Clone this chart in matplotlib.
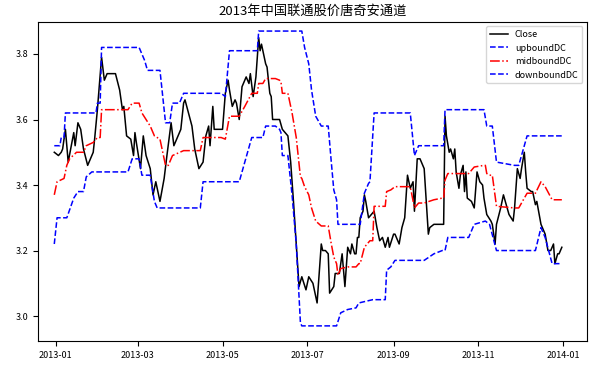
import pandas as pd
import matplotlib
matplotlib.use('Agg')
import matplotlib.pyplot as plt
import matplotlib.dates as mdates

plt.rcParams['font.family'] = ['Noto Sans CJK SC', 'DejaVu Sans']
plt.rcParams['axes.unicode_minus'] = False

# days counted from 2013-01-01
close_day = [-1, 2, 4, 5, 7, 9, 13, 14, 16, 18, 20, 23, 27, 28, 30, 33, 35, 37, 43, 46,
             48, 49, 51, 54, 56, 57, 58, 61, 63, 65, 68, 70, 72, 75, 78, 80, 83, 85, 90, 92,
             93, 98, 100, 103, 106, 108, 110, 111, 113, 114, 120, 122, 124, 125, 127, 129, 130, 132, 134, 137,
             139, 140, 142, 144, 146, 147, 148, 151, 152, 154, 155, 156, 161, 163, 165, 167, 169, 171, 173, 175,
             177, 180, 182, 185, 188, 191, 192, 194, 196, 197, 200, 201, 204, 206, 208, 210, 212, 213, 215, 216,
             217, 218, 219, 221, 222, 223, 225, 227, 229, 231, 233, 235, 237, 239, 240, 243, 244, 247, 249, 251,
             253, 255, 257, 258, 260, 262, 265, 268, 269, 272, 279, 280, 281, 283, 284, 286, 287, 288, 290, 291,
             293, 294, 295, 296, 299, 301, 303, 305, 307, 308, 310, 313, 314, 316, 317, 320, 322, 324, 326, 329,
             330, 332, 334, 335, 337, 338, 339, 342, 343, 345, 346, 349, 352, 354, 356, 358, 359, 361, 362, 364]
close_val = [3.50, 3.49, 3.50, 3.51, 3.57, 3.47, 3.56, 3.52, 3.59, 3.57, 3.51, 3.46, 3.50, 3.54, 3.63, 3.79, 3.72, 3.74, 3.74, 3.69,
             3.63, 3.64, 3.55, 3.54, 3.49, 3.56, 3.53, 3.45, 3.55, 3.49, 3.45, 3.37, 3.41, 3.35, 3.42, 3.49, 3.59, 3.52, 3.57, 3.65,
             3.66, 3.58, 3.51, 3.45, 3.47, 3.55, 3.58, 3.52, 3.64, 3.57, 3.57, 3.68, 3.72, 3.69, 3.64, 3.66, 3.65, 3.60, 3.70, 3.73,
             3.71, 3.74, 3.67, 3.73, 3.85, 3.81, 3.83, 3.77, 3.76, 3.68, 3.67, 3.60, 3.60, 3.57, 3.56, 3.55, 3.47, 3.35, 3.22, 3.09,
             3.12, 3.08, 3.12, 3.10, 3.04, 3.22, 3.20, 3.20, 3.19, 3.07, 3.09, 3.13, 3.13, 3.19, 3.09, 3.21, 3.19, 3.22, 3.19, 3.19,
             3.24, 3.24, 3.30, 3.32, 3.37, 3.35, 3.30, 3.31, 3.32, 3.27, 3.23, 3.24, 3.21, 3.24, 3.21, 3.25, 3.25, 3.22, 3.27, 3.30,
             3.43, 3.39, 3.41, 3.32, 3.48, 3.48, 3.45, 3.25, 3.27, 3.28, 3.28, 3.61, 3.55, 3.50, 3.51, 3.48, 3.51, 3.44, 3.39, 3.43,
             3.46, 3.38, 3.44, 3.36, 3.35, 3.33, 3.44, 3.41, 3.40, 3.36, 3.31, 3.29, 3.28, 3.22, 3.28, 3.33, 3.37, 3.34, 3.31, 3.29,
             3.33, 3.45, 3.42, 3.45, 3.50, 3.44, 3.39, 3.38, 3.38, 3.34, 3.35, 3.28, 3.25, 3.20, 3.20, 3.22, 3.16, 3.19, 3.19, 3.21]

up_day = [-1, 3, 4, 6, 7, 29, 30, 32, 33, 60, 64, 66, 75, 77, 79, 82, 84, 89, 92, 119,
          122, 125, 145, 146, 177, 179, 182, 184, 187, 191, 196, 198, 200, 202, 203, 219, 222, 225, 226, 229,
          255, 258, 261, 279, 280, 308, 310, 314, 317, 330, 333, 339, 364]
up_val = [3.52, 3.52, 3.545, 3.545, 3.62, 3.62, 3.65, 3.65, 3.82, 3.82, 3.78, 3.75, 3.75, 3.67, 3.59, 3.59, 3.65, 3.65, 3.68, 3.68,
          3.67, 3.81, 3.81, 3.87, 3.87, 3.82, 3.77, 3.69, 3.61, 3.58, 3.58, 3.48, 3.385, 3.355, 3.28, 3.28, 3.375, 3.405, 3.41, 3.62,
          3.62, 3.49, 3.52, 3.52, 3.63, 3.63, 3.58, 3.58, 3.47, 3.46, 3.46, 3.55, 3.55]

mid_day = [-1, 1, 6, 8, 10, 15, 20, 22, 27, 30, 32, 33, 52, 55, 60, 62, 65, 68, 71, 75,
           79, 81, 84, 92, 104, 106, 119, 122, 125, 132, 136, 141, 145, 146, 149, 151, 158, 161, 162, 163,
           167, 170, 173, 175, 176, 177, 179, 182, 184, 187, 191, 196, 198, 200, 202, 203, 205, 210, 216, 218,
           219, 222, 225, 226, 228, 229, 237, 238, 241, 244, 255, 258, 261, 265, 272, 278, 279, 280, 282, 297,
           301, 308, 309, 310, 312, 314, 317, 330, 333, 339, 345, 349, 352, 357, 364]
mid_val = [3.37, 3.41, 3.42, 3.46, 3.48, 3.50, 3.50, 3.52, 3.53, 3.545, 3.545, 3.63, 3.63, 3.65, 3.65, 3.62, 3.60, 3.58, 3.55, 3.54,
           3.46, 3.46, 3.49, 3.505, 3.505, 3.545, 3.545, 3.54, 3.61, 3.61, 3.64, 3.68, 3.68, 3.71, 3.71, 3.725, 3.725, 3.72, 3.715, 3.68,
           3.68, 3.62, 3.545, 3.465, 3.425, 3.42, 3.395, 3.37, 3.33, 3.29, 3.275, 3.275, 3.225, 3.18, 3.16, 3.125, 3.145, 3.15, 3.15, 3.16,
           3.16, 3.21, 3.225, 3.23, 3.23, 3.335, 3.335, 3.38, 3.385, 3.395, 3.395, 3.33, 3.345, 3.345, 3.355, 3.36, 3.36, 3.415, 3.435, 3.435,
           3.455, 3.46, 3.46, 3.435, 3.43, 3.43, 3.335, 3.33, 3.33, 3.375, 3.375, 3.41, 3.395, 3.355, 3.355]

down_day = [-1, 1, 8, 13, 16, 20, 22, 26, 52, 55, 60, 62, 68, 71, 73, 104, 106, 132, 136, 141,
            149, 151, 158, 161, 162, 163, 167, 170, 173, 175, 176, 177, 202, 205, 210, 216, 218, 228, 237, 238,
            241, 244, 265, 272, 278, 280, 282, 297, 301, 309, 312, 317, 345, 349, 352, 357, 364]
down_val = [3.22, 3.30, 3.30, 3.36, 3.38, 3.38, 3.425, 3.44, 3.44, 3.48, 3.48, 3.43, 3.43, 3.35, 3.33, 3.33, 3.41, 3.41, 3.47, 3.545,
            3.545, 3.58, 3.58, 3.57, 3.56, 3.49, 3.49, 3.37, 3.22, 3.06, 2.98, 2.97, 2.97, 3.01, 3.02, 3.025, 3.04, 3.05, 3.05, 3.14,
            3.15, 3.17, 3.17, 3.19, 3.20, 3.20, 3.24, 3.24, 3.28, 3.29, 3.28, 3.20, 3.20, 3.27, 3.24, 3.16, 3.16]

start = pd.Timestamp('2013-01-01')


def to_dates(days):
    return start + pd.to_timedelta(days, unit='D')


fig, ax = plt.subplots(figsize=(5.94, 3.71), dpi=100)
fig.subplots_adjust(left=0.064, right=0.988, bottom=0.081, top=0.941)

ax.plot(to_dates(close_day), close_val, color='black', lw=1.1, label='Close')
ax.plot(to_dates(up_day), up_val, color='blue', ls='--', lw=1.1, label='upboundDC')
ax.plot(to_dates(mid_day), mid_val, color='red', ls='-.', lw=1.1, label='midboundDC')
ax.plot(to_dates(down_day), down_val, color='blue', ls='--', lw=1.1, label='downboundDC')

ax.set_xlim(to_dates(-12.7), to_dates(382))
ax.set_ylim(2.924, 3.898)
ax.xaxis.set_major_locator(mdates.MonthLocator(bymonth=[1, 3, 5, 7, 9, 11]))
ax.xaxis.set_major_formatter(mdates.DateFormatter('%Y-%m'))
ax.tick_params(labelsize=6.5)

ax.set_title('2013年中国联通股价唐奇安通道', fontsize=9.5, pad=5)
ax.legend(loc='upper right', fontsize=6.5)

fig.savefig('out.png')
